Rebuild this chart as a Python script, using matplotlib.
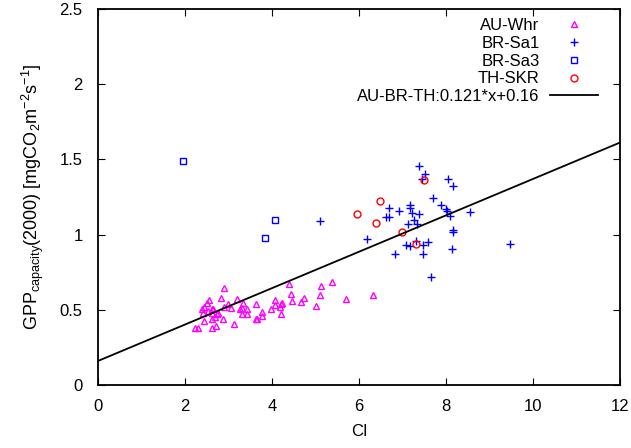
import matplotlib
matplotlib.use('Agg')
import matplotlib.pyplot as plt
import numpy as np

plt.rcParams['font.family'] = ['Liberation Sans', 'DejaVu Sans']
plt.rcParams['mathtext.default'] = 'regular'

# AU-Whr (triangles)
au_x = [2.90, 4.39, 5.13, 5.38, 6.33, 5.69, 5.11, 4.44, 4.74, 4.45, 4.66, 5.01,
        4.18, 4.24, 4.08, 3.97, 4.20, 3.64, 3.78, 3.76, 3.64, 3.13, 2.83, 3.19,
        2.98, 2.55, 2.51, 2.44, 3.34, 3.32, 3.27, 3.42, 3.06, 2.89, 2.62, 2.63,
        2.39, 2.41, 2.75, 3.30, 3.42, 2.44, 2.69, 2.62, 2.87, 2.24, 2.29, 2.63,
        2.71, 2.65, 2.73, 4.21, 4.07, 2.52, 3.65]
au_y = [0.647, 0.670, 0.660, 0.683, 0.598, 0.570, 0.598, 0.605, 0.576, 0.560, 0.550, 0.525,
        0.520, 0.543, 0.565, 0.505, 0.472, 0.537, 0.487, 0.461, 0.437, 0.405, 0.576, 0.574,
        0.539, 0.565, 0.543, 0.517, 0.547, 0.514, 0.503, 0.503, 0.512, 0.520, 0.503, 0.480,
        0.505, 0.477, 0.477, 0.472, 0.472, 0.428, 0.454, 0.437, 0.437, 0.377, 0.377, 0.377,
        0.392, 0.503, 0.470, 0.540, 0.530, 0.494, 0.437]

# BR-Sa1 (plus)
sa1_x = [7.37, 7.52, 7.44, 8.05, 8.17, 7.70, 7.89, 8.00, 8.03, 8.09, 8.55, 7.17,
         7.17, 6.68, 6.93, 7.22, 7.38, 6.61, 6.68, 7.26, 7.13, 7.33, 8.15, 8.15,
         6.18, 7.08, 7.17, 7.31, 7.48, 7.59, 6.82, 7.48, 8.14, 7.66, 9.46, 5.10]
sa1_y = [1.458, 1.400, 1.370, 1.370, 1.320, 1.240, 1.200, 1.168, 1.155, 1.126, 1.150, 1.197,
         1.180, 1.180, 1.157, 1.144, 1.137, 1.120, 1.120, 1.097, 1.072, 1.070, 1.030, 1.020,
         0.970, 0.930, 0.926, 0.960, 0.930, 0.950, 0.873, 0.869, 0.904, 0.720, 0.935, 1.090]

# BR-Sa3 (squares)
sa3_x = [1.95, 4.07, 3.84]
sa3_y = [1.49, 1.10, 0.98]

# TH-SKR (circles)
th_x = [5.95, 6.48, 6.39, 6.99, 7.31, 7.49]
th_y = [1.14, 1.22, 1.08, 1.02, 0.94, 1.36]

# fit line
slope = 0.121
intercept = 0.16

fs = 12

fig = plt.figure(figsize=(6.31, 4.48), dpi=100)
ax = fig.add_axes([0.1553, 0.1406, 0.8273, 0.8394])

ax.plot(au_x, au_y, linestyle='none', marker='^', markersize=5, mfc='none',
        mec='#ff00ff', mew=1, label='AU-Whr')
ax.plot(sa1_x, sa1_y, linestyle='none', marker='+', markersize=6,
        color='#0000ff', mew=1, label='BR-Sa1')
ax.plot(sa3_x, sa3_y, linestyle='none', marker='s', markersize=5, mfc='none',
        mec='#0000ff', mew=1, label='BR-Sa3')
ax.plot(th_x, th_y, linestyle='none', marker='o', markersize=5, mfc='none',
        mec='#ff0000', mew=1, label='TH-SKR')
xx = np.array([0, 12])
ax.plot(xx, slope * xx + intercept, color='black', linewidth=1.3,
        label='AU-BR-TH:0.121*x+0.16')

ax.set_xlim(0, 12)
ax.set_ylim(0, 2.5)
ax.set_xticks(np.arange(0, 13, 2))
ax.set_yticks([0, 0.5, 1, 1.5, 2, 2.5])
ax.set_yticklabels(['0', '0.5', '1', '1.5', '2', '2.5'])
ax.tick_params(direction='in', top=True, right=True, labelsize=fs, length=5)
ax.tick_params(axis='x', pad=10)
ax.tick_params(axis='y', pad=11)
for s in ax.spines.values():
    s.set_linewidth(1.3)

ax.set_xlabel('CI', fontsize=fs, labelpad=7)
ax.set_ylabel(r'GPP$_{capacity}$(2000) [mgCO$_2$m$^{-2}$s$^{-1}$]', fontsize=13, labelpad=10)

ax.legend(loc='upper right', bbox_to_anchor=(0.964, 0.985), frameon=False,
          markerfirst=False, fontsize=fs, handlelength=2.9, handletextpad=0.6,
          labelspacing=0.17, borderaxespad=0, borderpad=0.2)

fig.savefig('out.png', dpi=100)
